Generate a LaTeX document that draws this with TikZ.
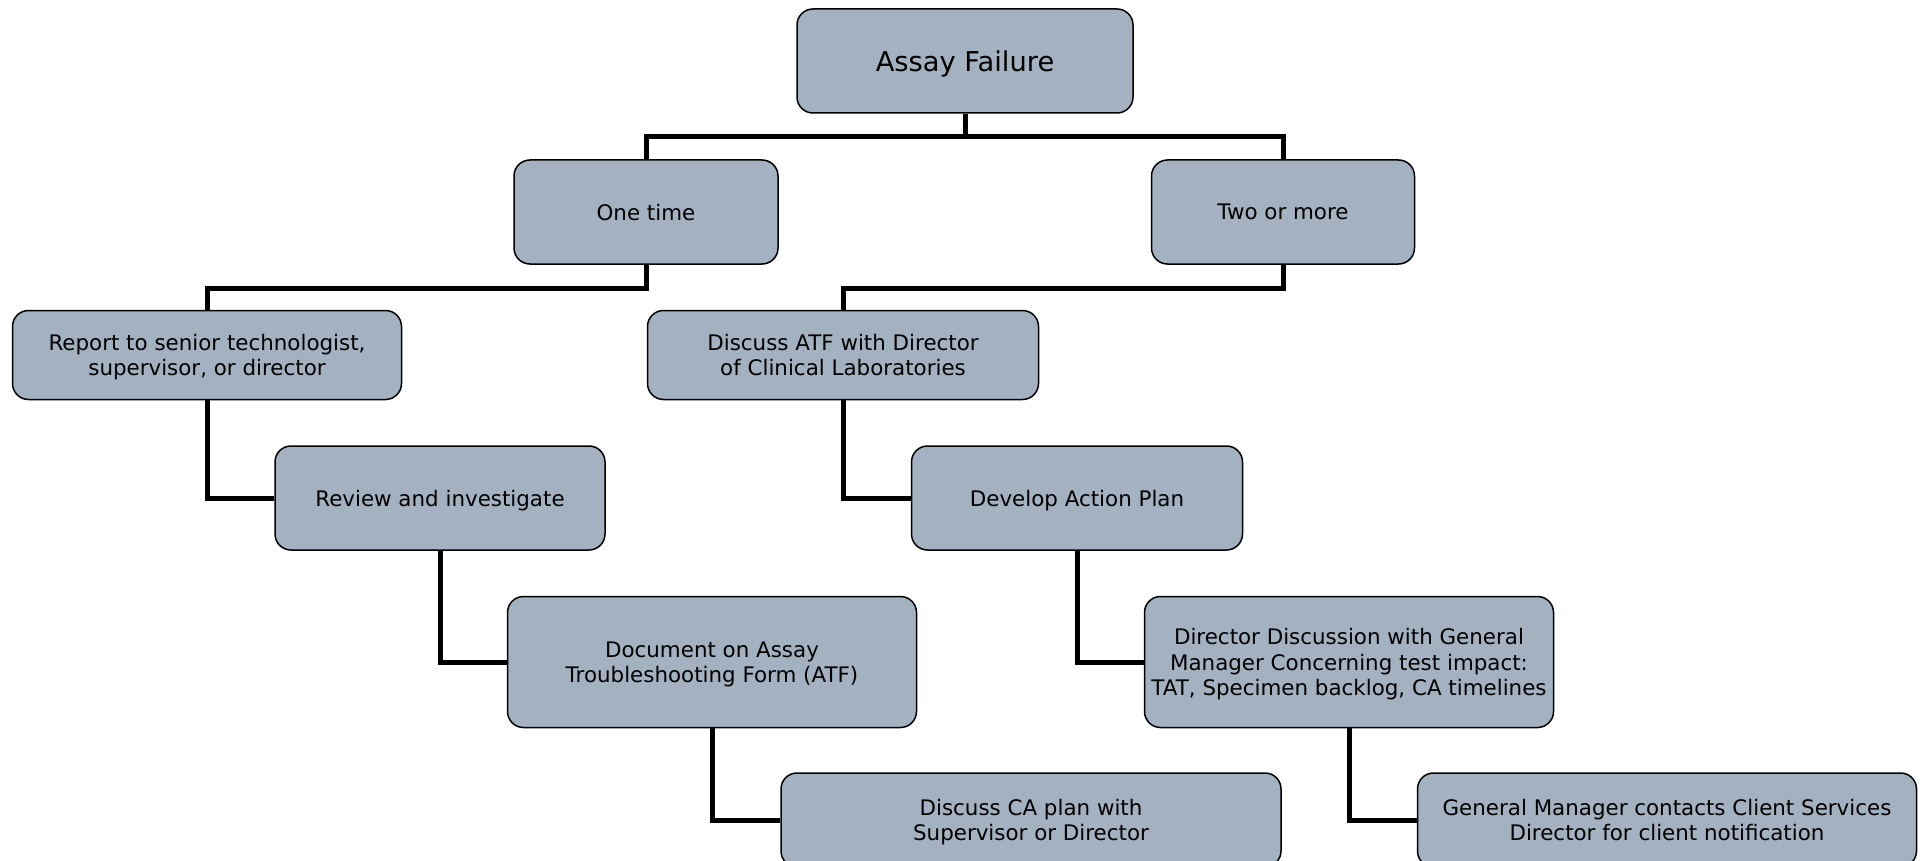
\documentclass[tikz,border=0pt]{standalone}
\usepackage{fontspec}
\setmainfont{DejaVu Sans}
\usepackage{tikz}
\usetikzlibrary{positioning}
\definecolor{boxfill}{RGB}{163,177,192}
\tikzset{
        base/.style={draw, line width=1.5pt, fill=boxfill, rounded corners=16pt,
                     align=center, inner sep=2pt, text depth=0pt,
                     font=\fontsize{21.4}{25.6}\selectfont},
        box/.style={base, rectangle},
        head/.style={base, font=\fontsize{27.3}{32}\selectfont},
        link/.style={line width=5pt},
}

\begin{document}
\begin{tikzpicture}[x=1pt, y=-1pt]
    \useasboundingbox (0,0) rectangle (1925,861);

    \node[head, minimum width=336pt, minimum height=104pt] (assay) at (965,61) {Assay Failure};
    \node[box, minimum width=264pt, minimum height=104pt] (once) at (646,212) {One time};
    \node[box, minimum width=263pt, minimum height=104pt] (twice) at (1283,212) {Two or more};

    \node[box, minimum width=389pt, minimum height=89pt] (report) at (207,355)
         {Report to senior technologist,\\ supervisor, or director};
    \node[box, minimum width=391pt, minimum height=89pt] (atf) at (843,355)
         {Discuss ATF with Director\\ of Clinical Laboratories};

    \node[box, minimum width=330pt, minimum height=104pt] (review) at (440,498) {Review and investigate};
    \node[box, minimum width=331pt, minimum height=104pt] (plan) at (1077,498) {Develop Action Plan};

    \node[box, minimum width=409pt, minimum height=131pt] (docu) at (712,662)
         {Document on Assay\\ Troubleshooting Form (ATF)};
    \node[box, minimum width=409pt, minimum height=131pt] (talk) at (1349,662)
         {Director Discussion with General\\ Manager Concerning test impact:\\ TAT, Specimen backlog, CA timelines};

    \node[box, minimum width=500pt, minimum height=94pt] (caplan) at (1031,820)
         {Discuss CA plan with\\ Supervisor or Director};
    \node[box, minimum width=499pt, minimum height=94pt] (client) at (1667,820)
         {General Manager contacts Client Services\\ Director for client notification};

    % tree links
    \draw[link] (assay.south) -- ++(0,23) -| (once.north);
    \draw[link] (assay.south) -- ++(0,23) -| (twice.north);
    \draw[link] (once.south) -- ++(0,24) -| (report.north);
    \draw[link] (twice.south) -- ++(0,24) -| (atf.north);

    \draw[link] (report.south) |- (review.west);
    \draw[link] (atf.south) |- (plan.west);
    \draw[link] (review.south) |- (docu.west);
    \draw[link] (plan.south) |- (talk.west);
    \draw[link] (docu.south) |- (caplan.west);
    \draw[link] (talk.south) |- (client.west);
\end{tikzpicture}
\end{document}
